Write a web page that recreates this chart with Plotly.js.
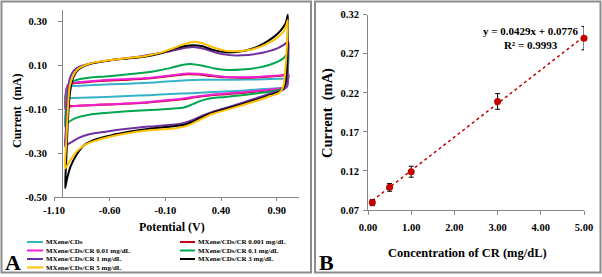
<!DOCTYPE html>
<html><head><meta charset="utf-8">
<script src="https://cdn.plot.ly/plotly-3.0.1.min.js"></script>
<style>html,body{margin:0;padding:0;background:#fff}#chart{width:602px;height:277px}</style>
</head><body><div id="chart"></div>
<script>
// ---------- Panel A : cyclic voltammograms ----------
const seriesNames = ["MXene/CDs","MXene/CDs/CR 0.001 mg/dL","MXene/CDs/CR 0.01 mg/dL","MXene/CDs/CR 0.1 mg/dL","MXene/CDs/CR 1 mg/dL","MXene/CDs/CR 3 mg/dL","MXene/CDs/CR 5 mg/dL"];
const seriesColors = ["#35b2c8","#c00018","#f020d0","#00a650","#7030a0","#000000","#ffc000"];

const potCDs = [-1.0,-0.994,-0.984,-0.97,-0.93,-0.784,-0.588,-0.392,-0.196,-0.049,0.097,0.244,0.44,0.636,0.783,0.91,0.978,1.003, 1.0,0.993,0.978,0.929, 0.831,0.685,0.538,0.342,0.146,-0.049,-0.245,-0.441,-0.637,-0.784,-0.93,-1.0];
const curCDs = [-0.052,-0.025,-0.005,0.002,0.005,0.008,0.012,0.016,0.021,0.026,0.031,0.033,0.033,0.034,0.035,0.037,0.039,0.042, 0.02,0.003,-0.002,-0.005, -0.008,-0.013,-0.018,-0.023,-0.028,-0.032,-0.037,-0.041,-0.045,-0.048,-0.05,-0.052];

const potCR0001 = [-1.0,-0.994,-0.984,-0.97,-0.93,-0.833,-0.686,-0.49,-0.294,-0.147,0.0,0.097,0.195,0.313,0.44,0.587,0.734,0.851,0.949,1.003, 1.0,0.993,0.978,0.949, 0.88,0.734,0.587,0.44,0.293,0.166,0.048,-0.098,-0.294,-0.49,-0.686,-0.833,-0.93,-0.979,-1.0];
const curCR0001 = [-0.088,-0.04,-0.003,0.01,0.016,0.021,0.027,0.032,0.037,0.044,0.053,0.058,0.057,0.05,0.044,0.042,0.044,0.048,0.052,0.057, 0.028,0.004,-0.004,-0.008, -0.012,-0.02,-0.027,-0.033,-0.039,-0.047,-0.056,-0.063,-0.072,-0.077,-0.081,-0.084,-0.086,-0.087,-0.088];

const potCR001 = [-1.0,-0.994,-0.984,-0.97,-0.93,-0.833,-0.686,-0.49,-0.294,-0.147,0.0,0.097,0.195,0.313,0.44,0.587,0.734,0.851,0.949,1.003, 1.0,0.993,0.978,0.949, 0.88,0.734,0.587,0.44,0.293,0.166,0.048,-0.098,-0.294,-0.49,-0.686,-0.833,-0.93,-0.979,-1.0];
const curCR001 = [-0.1,-0.05,0.0,0.012,0.019,0.024,0.03,0.035,0.04,0.047,0.056,0.061,0.06,0.053,0.046,0.044,0.046,0.05,0.054,0.06, 0.03,0.005,-0.003,-0.006, -0.01,-0.017,-0.024,-0.03,-0.036,-0.044,-0.053,-0.06,-0.07,-0.076,-0.08,-0.084,-0.088,-0.094,-0.1];

const potCR01 = [-1.0,-0.994,-0.984,-0.97,-0.94,-0.891,-0.784,-0.637,-0.49,-0.343,-0.196,-0.049,0.048,0.127,0.225,0.342,0.459,0.587,0.734,0.831,0.91,0.959,1.003, 1.0,0.993,0.983,0.959,0.929, 0.851,0.734,0.587,0.44,0.322,0.225,0.146,0.068,-0.049,-0.245,-0.441,-0.637,-0.784,-0.882,-0.94,-0.98,-1.0];
const curCR01 = [-0.18,-0.1,-0.03,0.005,0.022,0.033,0.042,0.048,0.055,0.062,0.072,0.087,0.1,0.105,0.098,0.084,0.077,0.079,0.088,0.1,0.115,0.13,0.152, 0.08,0.02,0.0,-0.008,-0.012, -0.02,-0.028,-0.037,-0.045,-0.05,-0.062,-0.078,-0.093,-0.099,-0.105,-0.11,-0.118,-0.126,-0.137,-0.15,-0.165,-0.18];

const potCR1 = [-1.0,-0.994,-0.984,-0.97,-0.95,-0.92,-0.872,-0.784,-0.637,-0.49,-0.343,-0.196,-0.049,0.048,0.146,0.244,0.342,0.459,0.587,0.734,0.831,0.91,0.959,1.003, 1.0,0.993,0.983,0.959,0.929, 0.851,0.734,0.587,0.44,0.322,0.225,0.146,0.068,-0.049,-0.245,-0.441,-0.637,-0.784,-0.882,-0.94,-0.98,-1.0];
const curCR1 = [-0.27,-0.2,-0.08,0.01,0.05,0.075,0.092,0.105,0.118,0.128,0.138,0.15,0.163,0.175,0.182,0.174,0.158,0.146,0.144,0.152,0.163,0.177,0.19,0.205, 0.12,0.03,0.0,-0.012,-0.018, -0.028,-0.048,-0.072,-0.095,-0.113,-0.132,-0.15,-0.163,-0.172,-0.18,-0.19,-0.203,-0.215,-0.232,-0.25,-0.262,-0.27];

const potCR3 = [-1.0,-0.99,-0.975,-0.955,-0.93,-0.89,-0.83,-0.735,-0.59,-0.44,-0.29,-0.15,-0.03,0.07,0.145,0.225,0.32,0.44,0.555,0.685,0.79,0.88,0.94,0.98,1.0, 0.998,0.99,0.978,0.96,0.93, 0.85,0.735,0.59,0.44,0.32,0.225,0.145,0.07,-0.05,-0.245,-0.44,-0.59,-0.735,-0.83,-0.9,-0.95,-0.98,-1.0];
const curCR3 = [-0.46,-0.33,-0.15,-0.02,0.04,0.075,0.095,0.11,0.122,0.13,0.138,0.152,0.172,0.185,0.19,0.186,0.17,0.158,0.16,0.175,0.2,0.23,0.26,0.29,0.328, 0.2,0.08,0.02,-0.005,-0.02, -0.035,-0.055,-0.078,-0.1,-0.118,-0.138,-0.158,-0.172,-0.18,-0.19,-0.205,-0.22,-0.24,-0.265,-0.31,-0.36,-0.41,-0.46];

const potCR5 = [-1.0,-0.99,-0.975,-0.96,-0.93,-0.89,-0.83,-0.735,-0.59,-0.44,-0.29,-0.15,-0.03,0.07,0.145,0.225,0.32,0.44,0.555,0.685,0.79,0.88,0.94,0.98,1.0, 0.993,0.976,0.963,0.944,0.91, 0.85,0.735,0.59,0.44,0.32,0.225,0.145,0.07,-0.05,-0.245,-0.44,-0.59,-0.735,-0.83,-0.9,-0.95,-0.98,-1.0];
const curCR5 = [-0.37,-0.25,-0.1,0.0,0.05,0.08,0.097,0.112,0.123,0.132,0.14,0.155,0.176,0.195,0.205,0.2,0.182,0.165,0.163,0.172,0.19,0.215,0.24,0.27,0.305, 0.2,0.07,0.01,-0.015,-0.03, -0.04,-0.06,-0.083,-0.105,-0.123,-0.145,-0.165,-0.18,-0.19,-0.197,-0.21,-0.225,-0.245,-0.265,-0.295,-0.33,-0.355,-0.37];

const cvPot = [potCDs,potCR0001,potCR001,potCR01,potCR1,potCR3,potCR5];
const cvCur = [curCDs,curCR0001,curCR001,curCR01,curCR1,curCR3,curCR5];

const potTickVals = [-1.1,-0.6,-0.1,0.4,0.9];
const potTickText = ["-1.10","-0.60","-0.10","0.40","0.90"];
const curTickVals = [-0.5,-0.3,-0.1,0.1,0.3];
const curTickText = ["-0.50","-0.30","-0.10","0.10","0.30"];

// ---------- Panel B : calibration ----------
const conc = [0.1,0.5,1.0,3.0,5.0];
const peakCurrent = [0.0795,0.099,0.119,0.209,0.290];
const peakErr = [0.004,0.005,0.007,0.010,0.015];
const fitSlope = 0.0429, fitIntercept = 0.0776, fitR2 = 0.9993;
const concTickVals = [0,1,2,3,4,5];
const concTickText = ["0.00","1.00","2.00","3.00","4.00","5.00"];
const bTickVals = [0.07,0.12,0.17,0.22,0.27,0.32];
const bTickText = ["0.07","0.12","0.17","0.22","0.27","0.32"];

const W = 602, H = 277;
const px = x => x / W, py = y => 1 - y / H;
const FF = "Liberation Serif";
const bold = (s, c) => ({family: FF, size: s, color: c || "#000", weight: "bold"});

const traces = [];
for (let i = 0; i < seriesNames.length; i++) {
  traces.push({type:"scatter", mode:"lines", name: seriesNames[i], x: cvPot[i], y: cvCur[i],
    xaxis:"x", yaxis:"y", line:{color: seriesColors[i], width: 2, shape:"spline", smoothing: 0.7}, showlegend:false});
}
const fitX = [conc[0], conc[conc.length-1]];
traces.push({type:"scatter", mode:"lines", x: fitX, y: fitX.map(v => fitSlope*v + fitIntercept),
  xaxis:"x2", yaxis:"y2", line:{color:"#c00000", width:1.5, dash:"dot"}, showlegend:false, cliponaxis:false});
traces.push({type:"scatter", mode:"markers", x: conc, y: peakCurrent, xaxis:"x2", yaxis:"y2",
  marker:{color:"#c00000", size:7}, error_y:{type:"data", array: peakErr, visible:true, color:"#000", thickness:1, width:2.5},
  showlegend:false, cliponaxis:false});

const axBase = {showgrid:false, zeroline:false, showline:true, linecolor:"#868686", linewidth:1,
  ticks:"outside", tickcolor:"#868686", ticklen:4, tickfont: bold(10.5)};

const annotations = [
  {text:"Potential (V)", x:px(172), y:py(227), font:bold(12)},
  {text:"Current  (mA)", x:px(17), y:py(111), textangle:-90, font:bold(12)},
  {text:"Concentration of CR (mg/dL)", x:px(467), y:py(253), font:bold(12.5)},
  {text:"Current  (mA)", x:px(327), y:py(113), textangle:-90, font:bold(14.5)},
  {text:"y = " + fitSlope.toFixed(4) + "x + " + fitIntercept.toFixed(4) + "<br>R² = " + fitR2.toFixed(4), x:px(531), y:py(38), font:bold(11), align:"center"},
  {text:"A", x:px(13), y:py(262), font:bold(22)},
  {text:"B", x:px(326), y:py(262), font:bold(22)}
];
const shapes = [
  {type:"rect", xref:"paper", yref:"paper", x0:px(1.5), x1:px(311), y0:py(1.5), y1:py(272.5), line:{color:"#8c8c8c", width:2}},
  {type:"rect", xref:"paper", yref:"paper", x0:px(315), x1:px(600.5), y0:py(1.5), y1:py(272.5), line:{color:"#8c8c8c", width:2}}
];
// legend drawn as text + line samples (two columns, row-major order)
for (let i = 0; i < seriesNames.length; i++) {
  const col = i % 2, row = Math.floor(i / 2);
  const yy = 242 + row * 8.5;
  const lx0 = col ? 180 : 27, lx1 = col ? 195 : 43, tx = col ? 197 : 45;
  shapes.push({type:"line", xref:"paper", yref:"paper", x0:px(lx0), x1:px(lx1), y0:py(yy), y1:py(yy), line:{color: seriesColors[i], width:2}});
  annotations.push({text: seriesNames[i], x:px(tx), y:py(yy), xanchor:"left", font:bold(7), borderpad:0});
}
annotations.forEach(a => { a.xref = "paper"; a.yref = "paper"; a.showarrow = false; if (!a.xanchor) a.xanchor = "center"; a.yanchor = "middle"; });

const layout = {
  width: W, height: H, margin:{l:0,r:0,t:0,b:0}, paper_bgcolor:"#fff", plot_bgcolor:"rgba(0,0,0,0)",
  showlegend:false,
  xaxis: Object.assign({}, axBase, {domain:[px(54), px(299)], range:[-1.1,1.1], tickvals: potTickVals, ticktext: potTickText, anchor:"y", ticklen:3}),
  yaxis: Object.assign({}, axBase, {domain:[py(197), py(10)], range:[-0.5,0.35], tickvals: curTickVals, ticktext: curTickText, anchor:"free", position: px(62), ticklabelstandoff: 9}),
  xaxis2: Object.assign({}, axBase, {domain:[px(368), px(584)], range:[0,5], tickvals: concTickVals, ticktext: concTickText, anchor:"y2", ticklabelstandoff: 3}),
  yaxis2: Object.assign({}, axBase, {domain:[py(210), py(14.7)], range:[0.07,0.32], tickvals: bTickVals, ticktext: bTickText, anchor:"x2", ticklabelstandoff: 2}),
  annotations: annotations, shapes: shapes
};
Plotly.newPlot("chart", traces, layout, {staticPlot:true, displayModeBar:false});
</script></body></html>
